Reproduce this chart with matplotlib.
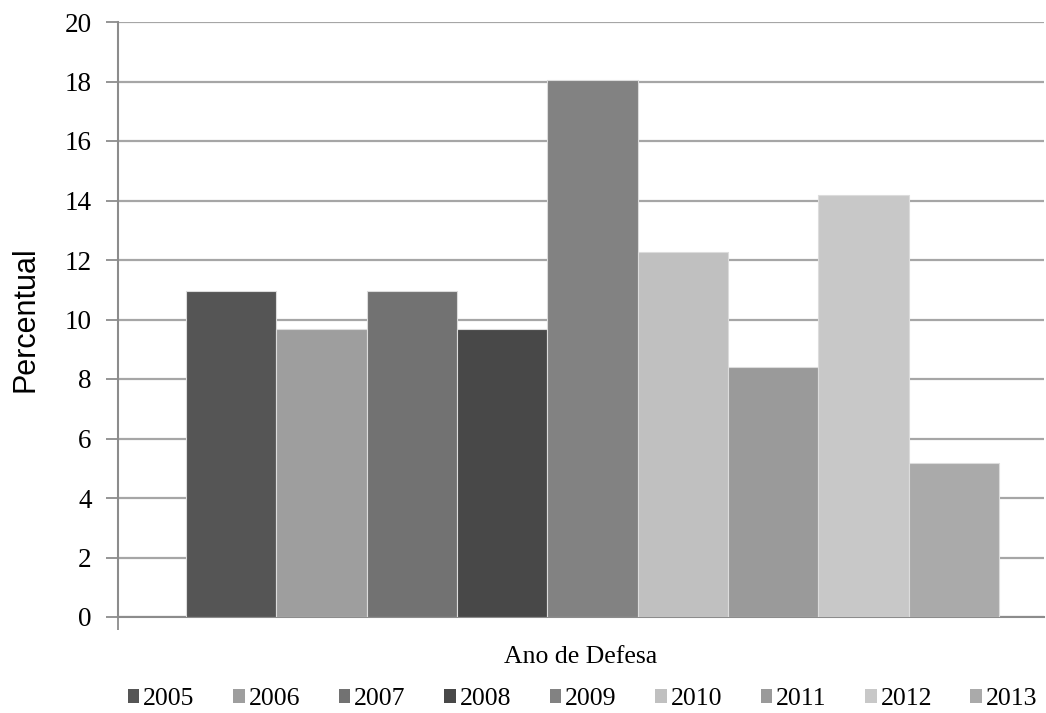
import numpy as np
import matplotlib
matplotlib.use('Agg')
from matplotlib import pyplot as plt
from matplotlib.patches import Patch

# dados
anos = ['2005', '2006', '2007', '2008', '2009', '2010', '2011', '2012', '2013']
percentual = [10.97, 9.68, 10.97, 9.68, 18.06, 12.26, 8.39, 14.19, 5.16]
cores = ['#555555', '#9e9e9e', '#727272', '#484848', '#828282',
         '#c0c0c0', '#9a9a9a', '#c8c8c8', '#aaaaaa']
yticks = [0, 2, 4, 6, 8, 10, 12, 14, 16, 18, 20]

fig = plt.figure(figsize=(10.46, 7.13), dpi=100)
ax = fig.add_axes([118/1046, 1-617/713, (1044-118)/1046, (617-22)/713])

x = np.arange(len(anos))
for i in range(len(anos)):
    ax.bar(x[i], percentual[i], width=1.0, color=cores[i],
           edgecolor='#dcdcdc', linewidth=0.8, zorder=3, label=anos[i])

ax.set_xlim(-1.253, 8.998)
ax.set_ylim(0, 20)
ax.set_yticks(yticks)
ax.set_yticklabels([str(v) for v in yticks], family='Liberation Serif', fontsize=19.5)
ax.set_xticks([-1.253])
ax.set_xticklabels([''])
ax.tick_params(axis='both', direction='out', length=9, width=1.3, color='#8c8c8c', pad=10)

ax.grid(axis='y', color='#a6a6a6', linewidth=1.6, zorder=0)
ax.set_axisbelow(True)
for s in ['top', 'right']:
    ax.spines[s].set_visible(False)
for s in ['left', 'bottom']:
    ax.spines[s].set_color('#8c8c8c')
    ax.spines[s].set_linewidth(1.5)

ax.set_ylabel('Percentual', family='Liberation Sans', fontsize=22, labelpad=17)
ax.set_xlabel('Ano de Defesa', family='Liberation Serif', fontsize=18.5, labelpad=2)

handles = [Patch(facecolor=c, edgecolor='none') for c in cores]
fig.legend(handles, anos, loc='center', bbox_to_anchor=(0.557, 0.019), ncol=9,
           frameon=False, prop={'family': 'Liberation Serif', 'size': 18.5},
           handlelength=0.45, handleheight=0.45, handletextpad=0.15,
           columnspacing=1.5, borderpad=0)

plt.savefig('out.png', dpi=100)
